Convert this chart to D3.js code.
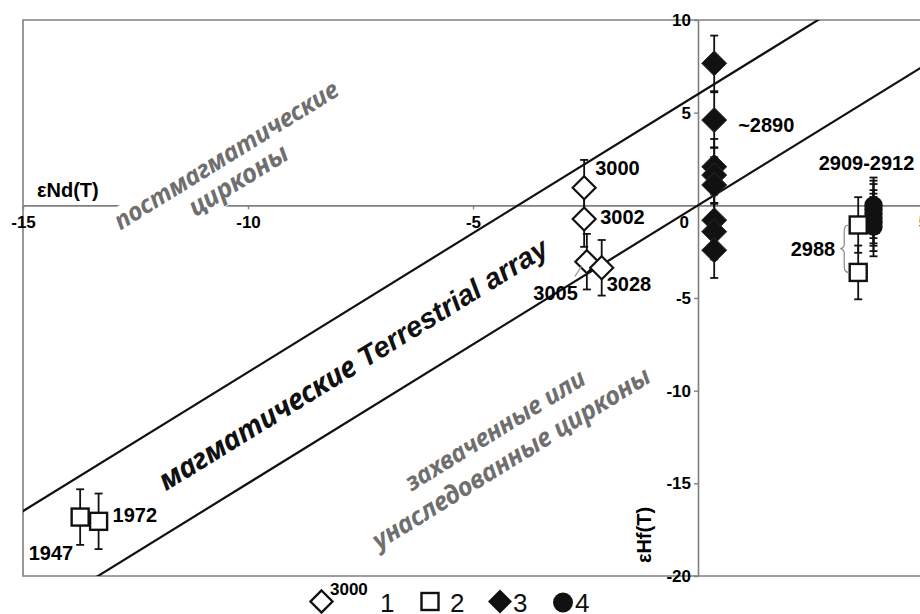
<!DOCTYPE html>
<html>
<head>
<meta charset="utf-8">
<script src="https://cdn.jsdelivr.net/npm/d3@7"></script>
<style>
  body { margin: 0; background: #fff; }
  svg { display: block; }
  text { font-family: "Liberation Sans", Arial, Helvetica, sans-serif; }
</style>
</head>
<body>
<svg id="chart" width="920" height="614"></svg>
<script>
// ---- axis ticks ----
const ndTicks = [-15, -10, -5, 0, 5];
const hfTicks = [10, 5, 0, -5, -10, -15, -20];

// ---- Terrestrial array bounds: eHf = slope * eNd + intercept ----
const arraySlope = 1.5;
const arrayIntercepts = [6.0, 0.0];

// ---- series 1: open diamonds ----
const s1Age = ["3000", "3002", "3005", "3028"];
const s1Nd  = [-2.53, -2.53, -2.47, -2.14];
const s1Hf  = [0.95, -0.74, -3.04, -3.37];
const s1Err = [1.5, 1.5, 1.5, 1.5];

// ---- series 2: open squares ----
const s2Age = ["1947", "1972", "2988", "2988"];
const s2Nd  = [-13.73, -13.32, 3.56, 3.56];
const s2Hf  = [-16.82, -17.05, -1.06, -3.62];
const s2Err = [1.5, 1.5, 1.5, 1.45];

// ---- series 3: filled diamonds (~2890) ----
const s3Nd  = [0.36, 0.36, 0.36, 0.36, 0.36, 0.36, 0.36, 0.36];
const s3Hf  = [7.66, 4.6, 2.08, 1.63, 1.1, -0.8, -1.42, -2.42];
const s3Err = [1.5, 1.5, 1.5, 1.5, 1.5, 1.5, 1.5, 1.5];

// ---- series 4: filled circles (2909-2912) ----
const s4Nd  = [3.9, 3.9, 3.9, 3.9, 3.9, 3.9];
const s4Hf  = [0.0, -0.22, -0.45, -0.68, -0.92, -1.15];
const s4Err = [1.5, 1.55, 1.6, 1.5, 1.55, 1.6];

// ---- field captions ----
const zoneText = [
  "постмагматические", "цирконы",
  "магматические Terrestrial array",
  "захваченные или", "унаследованные цирконы"
];
const legendItems = ["1", "2", "3", "4"];

// ================= drawing =================
const svg = d3.select("#chart");
const W = 920, H = 614;
const axisGray = "#7f7f7f", ink = "#111", textGray = "#6f6f6f";
const fmt = d => String(d);   // plain hyphen-minus labels

const x = d3.scaleLinear().domain([-15, 5]).range([23, 923]);
const y = d3.scaleLinear().domain([-20, 10]).range([576, 20]);

svg.append("defs").append("clipPath").attr("id", "plotClip")
  .append("rect")
  .attr("x", x(-15)).attr("y", y(10))
  .attr("width", x(5) - x(-15)).attr("height", y(-20) - y(10));

// frame (left, top, bottom)
svg.append("path")
  .attr("d", `M${W + 5},${y(10)} H${x(-15)} V${y(-20)} H${W + 5}`)
  .attr("stroke", axisGray).attr("stroke-width", 1.6).attr("fill", "none");

const styleTicks = g => {
  g.attr("font-family", null).attr("font-size", null);
  g.select(".domain").attr("stroke", axisGray).attr("stroke-width", 1.6);
  g.selectAll(".tick line").attr("stroke", axisGray).attr("stroke-width", 1.4);
  g.selectAll(".tick text").attr("fill", "#000")
    .attr("font-size", 17).attr("font-weight", "bold");
};

// x axis through eHf = 0
svg.append("g")
  .attr("transform", `translate(0,${y(0)})`)
  .call(d3.axisBottom(x).tickValues(ndTicks).tickSize(4).tickSizeOuter(0).tickPadding(7)
    .tickFormat(d => d === 0 ? "" : fmt(d)))
  .call(styleTicks);

// y axis through eNd = 0
svg.append("g")
  .attr("transform", `translate(${x(0)},0)`)
  .call(d3.axisLeft(y).tickValues(hfTicks).tickSize(4).tickSizeOuter(0).tickPadding(3)
    .tickFormat(d => d === 0 ? "" : fmt(d)))
  .call(styleTicks);

// shared origin label
svg.append("text")
  .attr("x", x(0) - 9).attr("y", y(0) + 11).attr("dy", "0.71em")
  .attr("text-anchor", "end").attr("font-size", 17).attr("font-weight", "bold")
  .text("0");

// axis titles
svg.append("text")
  .attr("x", 37).attr("y", 197)
  .attr("font-size", 20).attr("font-weight", "bold")
  .text("εNd(T)");
svg.append("text")
  .attr("transform", `translate(651,535) rotate(-90)`)
  .attr("text-anchor", "middle")
  .attr("font-size", 20).attr("font-weight", "bold")
  .text("εHf(T)");

// slope angle of the array on screen
const tilt = -Math.atan(arraySlope * (y(0) - y(1)) / (x(1) - x(0))) * 180 / Math.PI;

// white box behind upper-left caption (cuts the x axis)
svg.append("rect")
  .attr("transform", `translate(232,167.5) rotate(${tilt})`)
  .attr("x", -140).attr("y", -27).attr("width", 280).attr("height", 57)
  .attr("fill", "#fff");

// array boundary lines
const lineGen = d3.line().x(d => x(d[0])).y(d => y(d[1]));
svg.append("g").attr("clip-path", "url(#plotClip)")
  .selectAll("path").data(arrayIntercepts).join("path")
  .attr("d", b => lineGen([[-20, arraySlope * -20 + b], [10, arraySlope * 10 + b]]))
  .attr("stroke", ink).attr("stroke-width", 2.2).attr("fill", "none");

// captions fitted to their span along the tilt;
// Cyrillic words use a face with true italic letterforms, Latin words an Arial-like italic
const zoneLayout = [
  { cx: 226, cy: 155, span: 259, fill: textGray },
  { cx: 238, cy: 180, span: 112, fill: textGray },
  { cx: 353, cy: 364, span: 452, fill: "#111" },
  { cx: 495, cy: 430, span: 207, fill: textGray },
  { cx: 511, cy: 458, span: 322, fill: textGray }
];
const cyrFace = '"Noto Sans", "Open Sans", sans-serif';
const latFace = '"Liberation Sans", Arial, sans-serif';
zoneText.forEach((t, i) => {
  const L = zoneLayout[i];
  const el = svg.append("text")
    .attr("transform", `translate(${L.cx},${L.cy}) rotate(${tilt})`)
    .attr("text-anchor", "middle").attr("dy", "0.35em")
    .attr("font-size", 20).attr("font-weight", "bold").attr("font-style", "italic")
    .attr("fill", L.fill);
  t.split(" ").forEach((w, k, arr) => {
    el.append("tspan")
      .style("font-family", /[\u0400-\u04FF]/.test(w) ? cyrFace : latFace)
      .text(w + (k < arr.length - 1 ? " " : ""));
  });
  const len = el.node().getComputedTextLength();
  el.attr("font-size", (20 * L.span / len).toFixed(2));
});

// ---- error bars ----
function errorBars(nd, hf, err) {
  const g = svg.append("g").attr("stroke", ink).attr("stroke-width", 1.8);
  nd.forEach((v, i) => {
    const cx = x(v), top = y(hf[i] + err[i]), bot = y(hf[i] - err[i]);
    g.append("line").attr("x1", cx).attr("x2", cx).attr("y1", top).attr("y2", bot);
    g.append("line").attr("x1", cx - 4).attr("x2", cx + 4).attr("y1", top).attr("y2", top);
    g.append("line").attr("x1", cx - 4).attr("x2", cx + 4).attr("y1", bot).attr("y2", bot);
  });
}
errorBars(s3Nd, s3Hf, s3Err);
errorBars(s4Nd, s4Hf, s4Err);
errorBars(s2Nd, s2Hf, s2Err);
errorBars(s1Nd, s1Hf, s1Err);

const diamond = r => `M0,${-r}L${r},0L0,${r}L${-r},0Z`;

// series 3
svg.append("g").selectAll("path").data(s3Hf).join("path")
  .attr("transform", (d, i) => `translate(${x(s3Nd[i])},${y(d)})`)
  .attr("d", diamond(12.5)).attr("fill", ink).attr("stroke", "#2a2a2a").attr("stroke-width", 1);

// series 4
svg.append("g").selectAll("circle").data(s4Hf).join("circle")
  .attr("cx", (d, i) => x(s4Nd[i])).attr("cy", d => y(d)).attr("r", 9.2)
  .attr("fill", ink);

// series 2
svg.append("g").selectAll("rect").data(s2Hf).join("rect")
  .attr("x", (d, i) => x(s2Nd[i]) - 8.5).attr("y", d => y(d) - 8.5)
  .attr("width", 17).attr("height", 17)
  .attr("fill", "#fff").attr("stroke", ink).attr("stroke-width", 2.4);

// series 1
svg.append("g").selectAll("path").data(s1Hf).join("path")
  .attr("transform", (d, i) => `translate(${x(s1Nd[i])},${y(d)})`)
  .attr("d", diamond(11.5)).attr("fill", "#fff").attr("stroke", ink).attr("stroke-width", 2.2);

// ---- age labels ----
const lab = (px, py, t, anchor) => svg.append("text")
  .attr("x", px).attr("y", py).attr("dy", "0.36em")
  .attr("text-anchor", anchor || "start")
  .attr("font-size", 20).attr("font-weight", "bold").text(t);

lab(x(s1Nd[0]) + 11, y(s1Hf[0]) - 20, s1Age[0]);
lab(x(s1Nd[1]) + 16, y(s1Hf[1]) - 2, s1Age[1]);
lab(x(s1Nd[2]) - 9, y(s1Hf[2]) + 31, s1Age[2], "end");
lab(x(s1Nd[3]) + 5, y(s1Hf[3]) + 16, s1Age[3]);
lab(x(s2Nd[1]) + 14, y(s2Hf[1]) - 7, s2Age[1]);
lab(x(s2Nd[0]) - 7, y(s2Hf[0]) + 36, s2Age[0], "end");
lab(x(s2Nd[2]) - 23, (y(s2Hf[2]) + y(s2Hf[3])) / 2, s2Age[2], "end");
lab(x(s3Nd[1]) + 24, y(s3Hf[1]) + 5, "~2890");
lab(x(s4Nd[0]) - 7, y(s4Hf[0]) - 43, "2909-2912", "middle");

// leader for 3005
svg.append("line")
  .attr("x1", x(s1Nd[2]) - 12).attr("y1", y(s1Hf[2]) + 15)
  .attr("x2", x(s1Nd[2]) - 5).attr("y2", y(s1Hf[2]) + 4)
  .attr("stroke", "#999").attr("stroke-width", 1.2);

// brace grouping the two 2988 analyses
{
  const bx = x(s2Nd[2]) - 14, t = y(s2Hf[2]), b = y(s2Hf[3]), m = (t + b) / 2;
  svg.append("path")
    .attr("d", `M${bx + 5},${t} C${bx},${t} ${bx},${t + 4} ${bx},${t + 8} V${m - 4} C${bx},${m - 1} ${bx - 3},${m} ${bx - 4},${m}
                C${bx - 3},${m} ${bx},${m + 1} ${bx},${m + 4} V${b - 8} C${bx},${b - 4} ${bx},${b} ${bx + 5},${b}`)
    .attr("fill", "none").attr("stroke", "#888").attr("stroke-width", 1.2);
}

// ---- legend ----
const lg = svg.append("g");
lg.append("path").attr("transform", "translate(321.5,601.5)").attr("d", diamond(11))
  .attr("fill", "#fff").attr("stroke", ink).attr("stroke-width", 2.4);
lg.append("text").attr("x", 330).attr("y", 595).attr("font-size", 17).attr("font-weight", "bold").text(s1Age[0]);
lg.append("rect").attr("x", 421.5).attr("y", 593).attr("width", 17).attr("height", 17)
  .attr("fill", "#fff").attr("stroke", ink).attr("stroke-width", 2.4);
lg.append("path").attr("transform", "translate(500,601.5)").attr("d", diamond(12)).attr("fill", ink);
lg.append("circle").attr("cx", 563).attr("cy", 602.5).attr("r", 10).attr("fill", ink);
const legendX = [380, 450, 513, 575];
legendItems.forEach((t, i) => {
  lg.append("text").attr("x", legendX[i]).attr("y", 611.5)
    .attr("font-size", 26).attr("fill", "#111").text(t);
});
</script>
</body>
</html>
